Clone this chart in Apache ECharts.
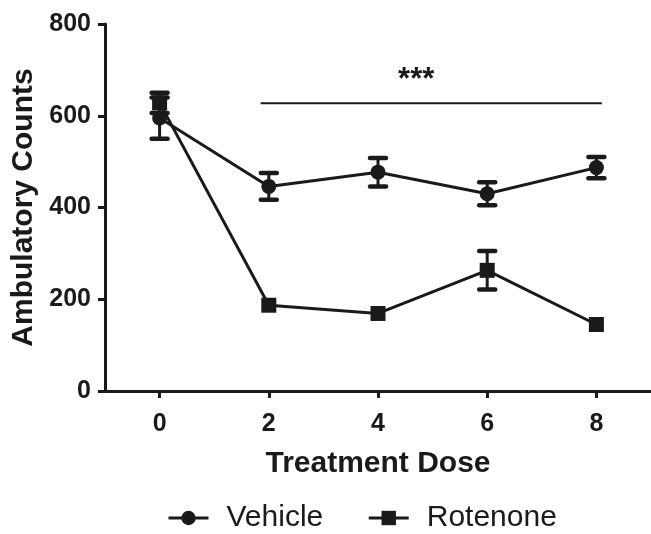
<!DOCTYPE html>
<html><head><meta charset="utf-8">
<script src="https://cdn.jsdelivr.net/npm/echarts@6/dist/echarts.min.js"></script>
<style>html,body{margin:0;padding:0;background:#fff}#c{width:651px;height:534px}</style>
</head><body><div id="c"></div>
<script>
const doses = [0, 2, 4, 6, 8];
const vehicleMean = [595, 446, 477, 430, 487];
const vehicleErr = [45, 29, 31, 25, 23];
const rotenoneMean = [628, 187, 169, 263, 145];
const rotenoneErr = [22, 0, 0, 42, 0];
const sigBar = [1.85, 8.1, 627];
const sigStars = [4.7, 678];
const sigText = '***';
const xTicks = [0, 2, 4, 6, 8];

const INK = '#1a1a1a';
const chart = echarts.init(document.getElementById('c'), null, {renderer: 'canvas'});

function errRender(params, api) {
  const x = api.value(0), m = api.value(1), e = api.value(2);
  if (!e) return {type: 'group', children: []};
  const top = api.coord([x, m + e]), bot = api.coord([x, m - e]);
  const hw = 8;
  return {
    type: 'group', children: [
      {type: 'line', shape: {x1: top[0], y1: top[1], x2: bot[0], y2: bot[1]}, style: {stroke: INK, lineWidth: 3}},
      {type: 'line', shape: {x1: top[0] - hw, y1: top[1], x2: top[0] + hw, y2: top[1]}, style: {stroke: INK, lineWidth: 4.5, lineCap: 'round'}},
      {type: 'line', shape: {x1: bot[0] - hw, y1: bot[1], x2: bot[0] + hw, y2: bot[1]}, style: {stroke: INK, lineWidth: 4.5, lineCap: 'round'}}
    ]
  };
}

function sigRender(params, api) {
  const a = api.coord([api.value(0), api.value(2)]);
  const b = api.coord([api.value(1), api.value(2)]);
  const s = api.coord([sigStars[0], sigStars[1]]);
  return {
    type: 'group', children: [
      {type: 'line', shape: {x1: a[0], y1: a[1], x2: b[0], y2: b[1]}, style: {stroke: INK, lineWidth: 2}},
      {type: 'text', x: s[0], y: s[1], style: {text: sigText, fill: INK, font: 'bold 31px "Liberation Sans", Arial, sans-serif', align: 'center', verticalAlign: 'middle'}}
    ]
  };
}

const vData = doses.map((d, i) => [d, vehicleMean[i]]);
const rData = doses.map((d, i) => [d, rotenoneMean[i]]);
const vErr = doses.map((d, i) => [d, vehicleMean[i], vehicleErr[i]]);
const rErr = doses.map((d, i) => [d, rotenoneMean[i], rotenoneErr[i]]);

const FONT = '"Liberation Sans", Arial, sans-serif';

chart.setOption({
  animation: false,
  backgroundColor: '#fff',
  grid: {left: 105, right: 0, top: 24, bottom: 143, containLabel: false, outerBoundsMode: 'none'},
  xAxis: {
    type: 'value', min: -1, max: 9,
    name: 'Treatment Dose', nameLocation: 'middle', nameGap: 58,
    nameTextStyle: {fontFamily: FONT, fontWeight: 'bold', fontSize: 30, color: INK},
    axisLine: {show: true, onZero: false, lineStyle: {color: INK, width: 3}},
    axisTick: {show: true, length: 7, lineStyle: {color: INK, width: 3}, customValues: xTicks},
    axisLabel: {show: true, margin: 21, fontFamily: FONT, fontWeight: 'bold', fontSize: 25, color: INK, customValues: xTicks},
    splitLine: {show: false}
  },
  yAxis: {
    type: 'value', min: 0, max: 800, interval: 200,
    name: 'Ambulatory Counts', nameLocation: 'middle', nameGap: 66,
    nameTextStyle: {fontFamily: FONT, fontWeight: 'bold', fontSize: 30, color: INK},
    axisLine: {show: true, onZero: false, lineStyle: {color: INK, width: 3}},
    axisTick: {show: true, length: 7, lineStyle: {color: INK, width: 3}},
    axisLabel: {margin: 14, fontFamily: FONT, fontWeight: 'bold', fontSize: 25, color: INK},
    splitLine: {show: false}
  },
  legend: {
    data: ['Vehicle', 'Rotenone'],
    left: 162, top: 498,
    itemWidth: 40, itemHeight: 18, itemGap: 44,
    lineStyle: {width: 3, color: INK},
    textStyle: {fontFamily: FONT, fontSize: 30, color: INK, padding: [0, 0, 0, 13]}
  },
  series: [
    {name: 'VehicleErr', type: 'custom', renderItem: errRender, data: vErr, encode: {x: 0, y: 1}, z: 2, silent: true},
    {name: 'RotenoneErr', type: 'custom', renderItem: errRender, data: rErr, encode: {x: 0, y: 1}, z: 2, silent: true},
    {name: 'Vehicle', type: 'line', data: vData, symbol: 'circle', symbolSize: 15,
      lineStyle: {color: INK, width: 3}, itemStyle: {color: INK}, z: 3},
    {name: 'Rotenone', type: 'line', data: rData, symbol: 'rect', symbolSize: 15,
      lineStyle: {color: INK, width: 3}, itemStyle: {color: INK}, z: 3},
    {name: 'sig', type: 'custom', renderItem: sigRender, data: [sigBar], encode: {x: 0, y: 2}, z: 4, silent: true}
  ]
});
</script></body></html>
